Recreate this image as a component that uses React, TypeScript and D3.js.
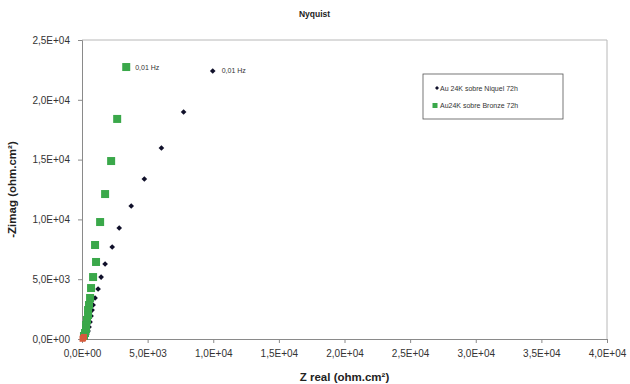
import React, { useEffect, useRef } from 'react'
import * as d3 from 'd3'

// Nyquist data: [Z real, -Zimag] in ohm.cm2
const niquelZreal = [9960, 7740, 6050, 4750, 3750, 2835, 2300, 1760, 1455, 1225, 995, 845, 765, 690, 615, 535, 460, 380, 300, 230]
const niquelZimag = [22410, 18980, 15970, 13380, 11120, 9280, 7690, 6270, 5180, 4180, 3430, 2840, 2420, 1920, 1420, 1000, 670, 420, 250, 80]

const bronzeZreal = [3370, 2680, 2220, 1760, 1380, 995, 1070, 845, 690, 615, 535, 460, 460, 380, 310, 310, 230, 150]
const bronzeZimag = [22740, 18400, 14880, 12120, 9780, 7860, 6440, 5180, 4260, 3430, 2840, 2420, 2000, 1590, 1170, 840, 500, 250]

const hfZreal = [150, 80, 40]
const hfZimag = [170, 80, 20]

const xTicks = [0, 5000, 10000, 15000, 20000, 25000, 30000, 35000, 40000]
const yTicks = [0, 5000, 10000, 15000, 20000, 25000]

const seriesNames = ['Au 24K sobre Niquel 72h', 'Au24K sobre Bronze 72h']
const pointLabel = '0,01 Hz'

function sci (d: number) {
  if (d === 0) return '0,0E+00'
  const e = Math.floor(Math.log10(Math.abs(d)))
  const m = d / Math.pow(10, e)
  return m.toFixed(1).replace('.', ',') + 'E+' + String(e).padStart(2, '0')
}

function NyquistChart () {
  const ref = useRef<SVGSVGElement>(null)

  useEffect(() => {
    const width = 630
    const height = 384
    const margin = { top: 40, right: 23, bottom: 45, left: 82 }
    const w = width - margin.left - margin.right
    const h = height - margin.top - margin.bottom
    const font = 'Liberation Sans, Arial, sans-serif'

    const root = d3.select(ref.current)
    root.selectAll('*').remove()

    root.append('rect').attr('width', width).attr('height', height).attr('fill', '#fff')

    const svg = root.append('g')
      .attr('transform', 'translate(' + margin.left + ',' + margin.top + ')')

    const x = d3.scaleLinear().domain([0, 40000]).range([0, w])
    const y = d3.scaleLinear().domain([0, 25000]).range([h, 0])

    // plot area frame (top and right light grey)
    svg.append('path')
      .attr('d', 'M0,0H' + w + 'V' + h)
      .attr('fill', 'none')
      .attr('stroke', '#b8b8b8')
      .attr('stroke-width', 1)

    const xAxis = svg.append('g')
      .attr('transform', 'translate(0,' + h + ')')
      .call(d3.axisBottom(x).tickValues(xTicks).tickFormat(d => sci(+d)).tickSize(4).tickPadding(7))
    const yAxis = svg.append('g')
      .call(d3.axisLeft(y).tickValues(yTicks).tickFormat(d => sci(+d)).tickSize(4).tickPadding(8))

    for (const ax of [xAxis, yAxis]) {
      ax.select('.domain').attr('stroke', '#8a8a8a')
      ax.selectAll('.tick line').attr('stroke', '#8a8a8a')
      ax.selectAll('.tick text')
        .attr('fill', '#333')
        .style('font-family', font)
        .style('font-size', '10px')
    }

    const niquel = niquelZreal.map((v, i) => [v, niquelZimag[i]])
    const bronze = bronzeZreal.map((v, i) => [v, bronzeZimag[i]])
    const hf = hfZreal.map((v, i) => [v, hfZimag[i]])

    const diamond = d3.symbol().type(d3.symbolSquare).size(16)

    svg.append('g')
      .selectAll('path')
      .data(niquel)
      .enter()
      .append('path')
      .attr('transform', d => 'translate(' + x(d[0]) + ',' + y(d[1]) + ') rotate(45)')
      .attr('d', diamond)
      .attr('fill', '#10102a')

    svg.append('g')
      .selectAll('rect')
      .data(bronze)
      .enter()
      .append('rect')
      .attr('x', d => x(d[0]) - 4)
      .attr('y', d => y(d[1]) - 4)
      .attr('width', 8)
      .attr('height', 8)
      .attr('fill', '#3aa84a')

    svg.append('g')
      .selectAll('rect')
      .data(hf)
      .enter()
      .append('rect')
      .attr('x', d => x(d[0]) - 3)
      .attr('y', d => y(d[1]) - 3)
      .attr('width', 6)
      .attr('height', 6)
      .attr('fill', '#d65a3c')

    // frequency labels on the last points
    svg.append('text')
      .attr('x', x(niquel[0][0]) + 9)
      .attr('y', y(niquel[0][1]) + 2.5)
      .style('font-family', font)
      .style('font-size', '7px')
      .attr('fill', '#333')
      .text(pointLabel)
    svg.append('text')
      .attr('x', x(bronze[0][0]) + 9)
      .attr('y', y(bronze[0][1]) + 2.5)
      .style('font-family', font)
      .style('font-size', '7px')
      .attr('fill', '#333')
      .text(pointLabel)

    // legend
    const legend = root.append('g').attr('transform', 'translate(423,74)')
    legend.append('rect')
      .attr('width', 140)
      .attr('height', 45)
      .attr('fill', '#fff')
      .attr('stroke', '#555')
      .attr('stroke-width', 0.8)
    legend.append('path')
      .attr('transform', 'translate(14,14) rotate(45)')
      .attr('d', d3.symbol().type(d3.symbolSquare).size(8))
      .attr('fill', '#10102a')
    legend.append('rect')
      .attr('x', 9.5)
      .attr('y', 29)
      .attr('width', 5)
      .attr('height', 5)
      .attr('fill', '#3aa84a')
    seriesNames.forEach((name, i) => {
      legend.append('text')
        .attr('x', 17)
        .attr('y', 16.5 + i * 17)
        .style('font-family', font)
        .style('font-size', '7px')
        .attr('fill', '#333')
        .text(name)
    })

    root.append('text')
      .attr('x', margin.left + w / 2 - 30)
      .attr('y', 17)
      .attr('text-anchor', 'middle')
      .style('font-family', font)
      .style('font-size', '8.5px')
      .style('font-weight', 'bold')
      .attr('fill', '#222')
      .text('Nyquist')

    root.append('text')
      .attr('x', margin.left + w / 2)
      .attr('y', 381)
      .attr('text-anchor', 'middle')
      .style('font-family', font)
      .style('font-size', '11.5px')
      .style('font-weight', 'bold')
      .attr('fill', '#222')
      .text('Z real (ohm.cm²)')

    root.append('g')
      .attr('transform', 'translate(16,' + (margin.top + h / 2) + ')')
      .append('text')
      .attr('text-anchor', 'middle')
      .attr('transform', 'rotate(-90)')
      .style('font-family', font)
      .style('font-size', '11.5px')
      .style('font-weight', 'bold')
      .attr('fill', '#222')
      .text('-Zimag (ohm.cm²)')
  }, [])

  return (
    <svg ref={ref} width={630} height={384} style={{ position: 'absolute', left: 0, top: 0 }} />
  )
}

export default function App () {
  return <NyquistChart />
}
